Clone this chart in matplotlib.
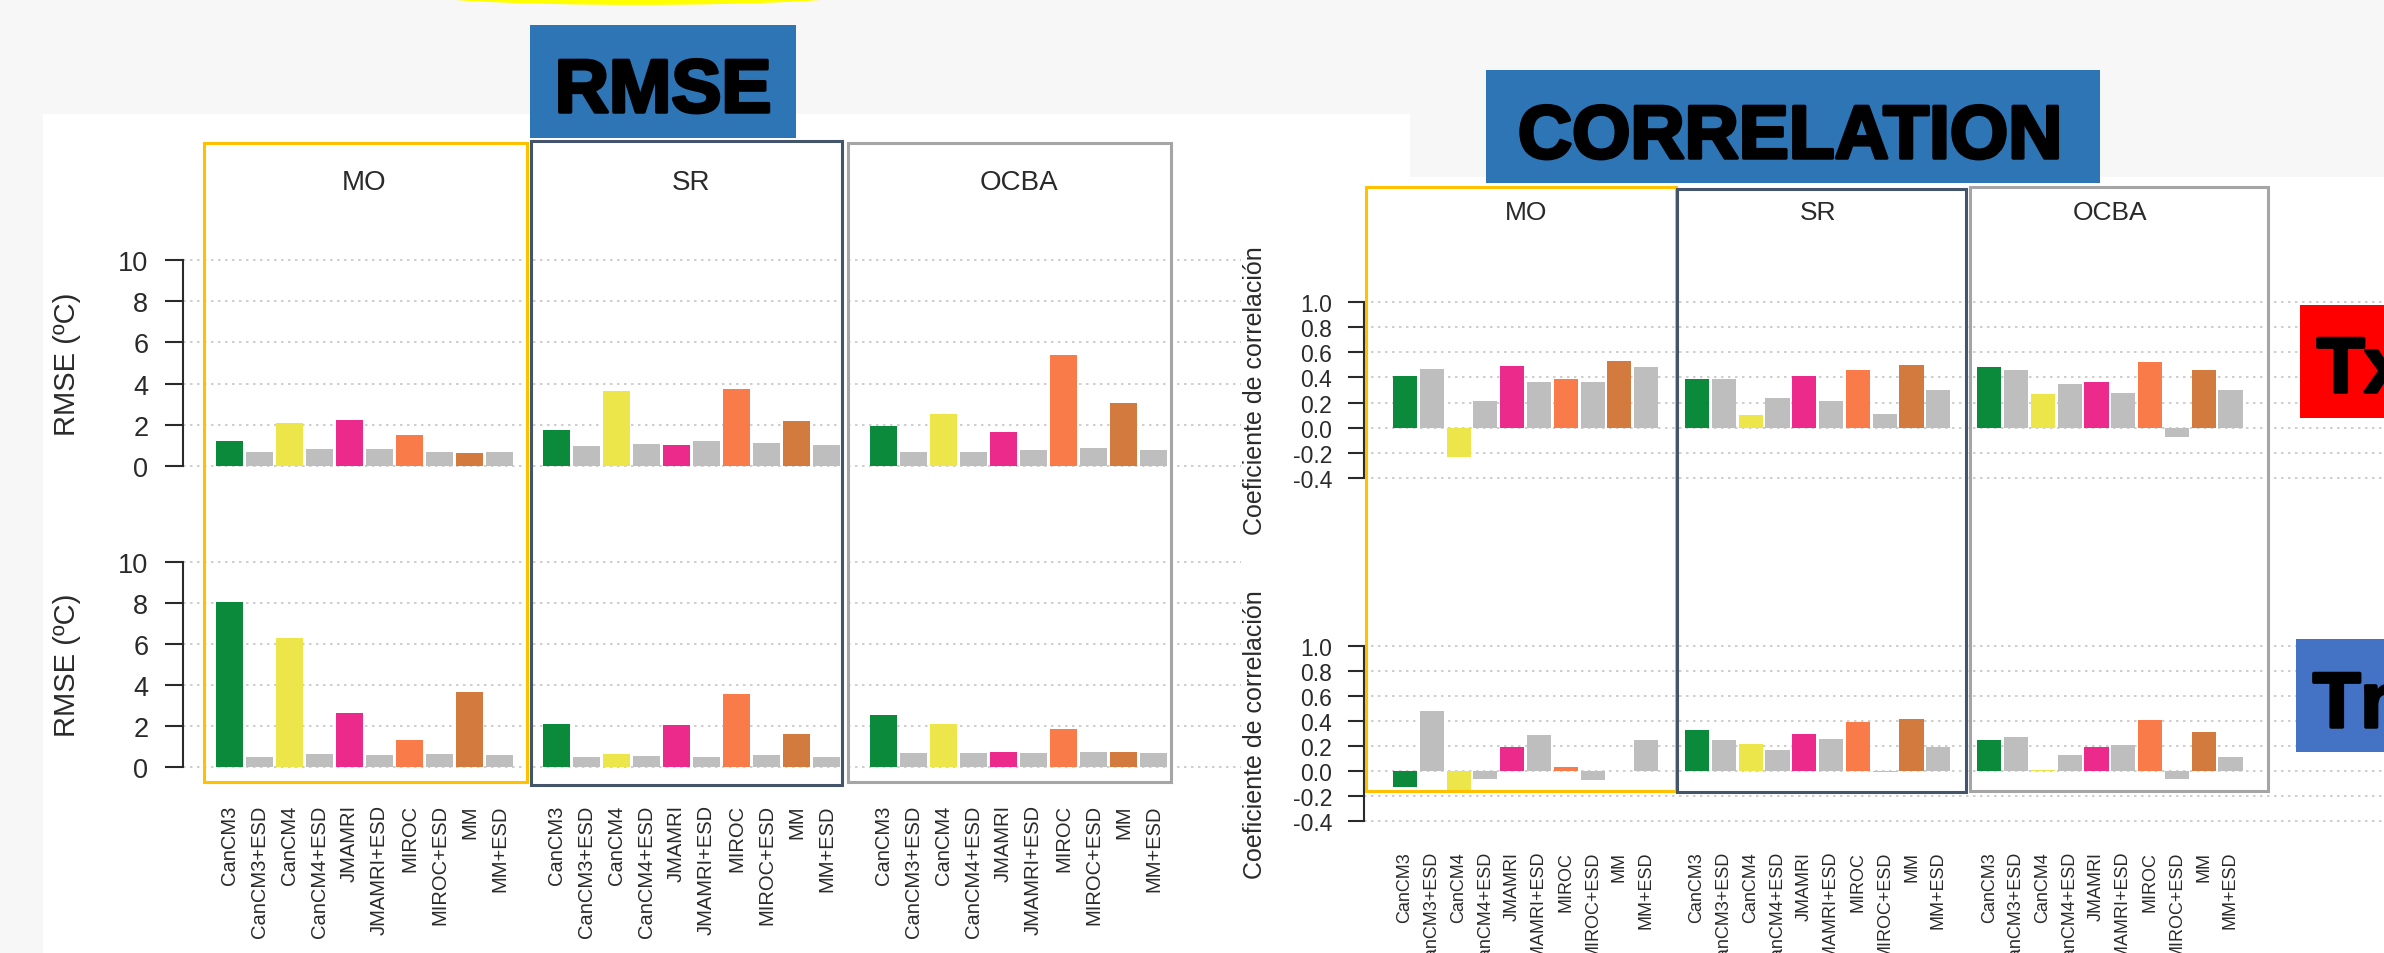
import matplotlib
matplotlib.use("Agg")
import matplotlib.pyplot as plt
import matplotlib.patheffects as pe
from matplotlib.patches import Rectangle, Ellipse
from matplotlib.transforms import blended_transform_factory

# ---------------------------------------------------------------- data
regions = ["MO", "SR", "OCBA"]
models = ["CanCM3", "CanCM3+ESD", "CanCM4", "CanCM4+ESD", "JMAMRI",
          "JMAMRI+ESD", "MIROC", "MIROC+ESD", "MM", "MM+ESD"]
model_colors = ["#0b8a3c", "#bebebe", "#ece64a", "#bebebe", "#ec2a8c",
                "#bebebe", "#fa7b4a", "#bebebe", "#d37a3e", "#bebebe"]

# RMSE (ºC), one list per region (MO, SR, OCBA)
rmse_tx = [
    [1.20, 0.70, 2.10, 0.80, 2.25, 0.80, 1.50, 0.70, 0.62, 0.68],
    [1.75, 0.97, 3.66, 1.05, 1.02, 1.20, 3.72, 1.10, 2.20, 1.02],
    [1.94, 0.70, 2.52, 0.70, 1.63, 0.78, 5.39, 0.86, 3.04, 0.78],
]
rmse_tn = [
    [8.05, 0.49, 6.27, 0.65, 2.64, 0.57, 1.30, 0.65, 3.65, 0.57],
    [2.09, 0.49, 0.65, 0.53, 2.03, 0.49, 3.57, 0.57, 1.62, 0.49],
    [2.54, 0.70, 2.10, 0.70, 0.73, 0.70, 1.86, 0.73, 0.73, 0.70],
]
# correlation coefficients, one list per region (MO, SR, OCBA)
corr_tx = [
    [0.41, 0.47, -0.23, 0.21, 0.49, 0.36, 0.39, 0.36, 0.53, 0.48],
    [0.39, 0.39, 0.10, 0.24, 0.41, 0.21, 0.46, 0.11, 0.50, 0.30],
    [0.48, 0.46, 0.27, 0.35, 0.36, 0.28, 0.52, -0.07, 0.46, 0.30],
]
corr_tn = [
    [-0.125, 0.48, -0.15, -0.06, 0.19, 0.29, 0.03, -0.075, 0.0, 0.25],
    [0.33, 0.25, 0.22, 0.17, 0.30, 0.26, 0.39, -0.01, 0.42, 0.19],
    [0.25, 0.27, 0.01, 0.13, 0.19, 0.21, 0.41, -0.06, 0.31, 0.11],
]

rmse_ticks = [0, 2, 4, 6, 8, 10]
corr_ticks = [-0.4, -0.2, 0.0, 0.2, 0.4, 0.6, 0.8, 1.0]

# ---------------------------------------------------------------- setup
W, H, DPI = 2384, 954, 100
plt.rcParams["font.family"] = ["Liberation Sans", "DejaVu Sans"]
fig = plt.figure(figsize=(W / DPI, H / DPI), dpi=DPI, facecolor="#f7f7f7")

GROUP_STEP = 10.9          # distance between the first bars of two regions
BAR_W = 0.9
INK = "#2a2a2a"


def fx(x):
    return x / W


def fy(y):
    return 1 - y / H


def px_axes(x0, y0, x1, y1):
    ax = fig.add_axes([fx(x0), fy(y1), (x1 - x0) / W, (y1 - y0) / H])
    ax.patch.set_alpha(0)
    return ax


def fig_rect(x0, y0, x1, y1, **kw):
    r = Rectangle((fx(x0), fy(y1)), (x1 - x0) / W, (y1 - y0) / H,
                  transform=fig.transFigure, **kw)
    fig.patches.append(r)
    return r


def bar_panel(ax, values, ticks, ylim, xlim, fmt, tick_fs, tick_len, tick_pad):
    for v in ticks:
        ax.axhline(v, color="#c6c6c6", lw=1.2, ls=(0, (1.5, 2.7)), zorder=0)
    for g, vals in enumerate(values):
        xs = [g * GROUP_STEP + i for i in range(len(models))]
        ax.bar(xs, vals, width=BAR_W, color=model_colors, zorder=2)
    ax.set_xlim(*xlim)
    ax.set_ylim(*ylim)
    for s in ("top", "right", "bottom"):
        ax.spines[s].set_visible(False)
    ax.spines["left"].set_bounds(ticks[0], ticks[-1])
    ax.spines["left"].set_linewidth(1.5)
    ax.spines["left"].set_color(INK)
    ax.set_yticks(ticks, [fmt(t) for t in ticks])
    ax.tick_params(axis="y", length=tick_len, width=1.5, pad=tick_pad,
                   labelsize=tick_fs, color=INK, labelcolor=INK)
    ax.tick_params(axis="x", length=0)
    ax.set_xticks([])


def add_xlabels(ax, fs, pad):
    pos, labs = [], []
    for g in range(len(regions)):
        for i, m in enumerate(models):
            pos.append(g * GROUP_STEP + i)
            labs.append(m)
    ax.set_xticks(pos, labs, rotation=90)
    ax.tick_params(axis="x", length=0, pad=pad, labelsize=fs, labelcolor=INK)


def add_facets(ax, y_px, fs):
    tr = blended_transform_factory(ax.transData, fig.transFigure)
    for g, name in enumerate(regions):
        ax.text(g * GROUP_STEP + 4.5, fy(y_px), name, transform=tr,
                ha="center", va="center", fontsize=fs, color=INK)


def set_ylab(ax, text, x_px, ax_x0, ax_w, fs):
    ax.set_ylabel(text, fontsize=fs, color=INK)
    ax.yaxis.set_label_coords((x_px - ax_x0) / ax_w, 0.5)
    ax.yaxis.label.set_verticalalignment("center")


# ---------------------------------------------------------------- backgrounds
fig_rect(43, 115, 1410, 954, facecolor="white", edgecolor="none", zorder=-5)
fig_rect(1230, 178, 2384, 954, facecolor="white", edgecolor="none", zorder=-5)

# ---------------------------------------------------------------- RMSE panels
rm_x0, rm_x1 = 183, 1241
rm_xlim = (-1.55, -1.55 + (rm_x1 - rm_x0) / 30.0)
ax_rt = px_axes(rm_x0, 252.8, rm_x1, 475.2)
bar_panel(ax_rt, rmse_tx, rmse_ticks, (-0.4, 10.4), rm_xlim,
          lambda t: f"{t:d}", 19.5, 13, 12)
set_ylab(ax_rt, "RMSE (ºC)", 67, rm_x0, rm_x1 - rm_x0, 21)
add_facets(ax_rt, 183, 20)

ax_rb = px_axes(rm_x0, 554.8, rm_x1, 776.2)
bar_panel(ax_rb, rmse_tn, rmse_ticks, (-0.4, 10.4), rm_xlim,
          lambda t: f"{t:d}", 19.5, 13, 12)
set_ylab(ax_rb, "RMSE (ºC)", 67, rm_x0, rm_x1 - rm_x0, 21)
add_xlabels(ax_rb, 14.5, 21)

# ---------------------------------------------------------------- correlation panels
co_x0, co_x1 = 1364, 2384
co_xlim = (-1.53, -1.53 + (co_x1 - co_x0) / 26.8)
ax_ct = px_axes(co_x0, 296.7, co_x1, 485.3)
bar_panel(ax_ct, corr_tx, corr_ticks, (-0.45, 1.05), co_xlim,
          lambda t: f"{t:.1f}", 16.5, 11.5, 11.5)
set_ylab(ax_ct, "Coeficiente de correlación", 1255, co_x0, co_x1 - co_x0, 18)
add_facets(ax_ct, 213, 19)

ax_cb = px_axes(co_x0, 640.8, co_x1, 828.3)
bar_panel(ax_cb, corr_tn, corr_ticks, (-0.45, 1.05), co_xlim,
          lambda t: f"{t:.1f}", 16.5, 11.5, 11.5)
set_ylab(ax_cb, "Coeficiente de correlación", 1255, co_x0, co_x1 - co_x0, 18)
add_xlabels(ax_cb, 13, 17)

# ---------------------------------------------------------------- region frames
frame_colors = ["#ffc000", "#44546a", "#a5a5a5"]
rmse_frames = [(204, 144, 527, 783), (531, 142, 842, 786), (848, 144, 1171, 783)]
corr_frames = [(1366, 188, 1676, 792), (1677, 190, 1966, 793), (1970, 188, 2268, 792)]
for col, box in zip(frame_colors, rmse_frames):
    fig_rect(*box, fill=False, edgecolor=col, lw=2.2, zorder=10)
for col, box in zip(frame_colors, corr_frames):
    fig_rect(*box, fill=False, edgecolor=col, lw=2.2, zorder=10)

# ---------------------------------------------------------------- headings
fig.patches.append(Ellipse((fx(638), fy(-5.1)), 440 / W, 22 / H,
                           transform=fig.transFigure, facecolor="#ffff00",
                           edgecolor="none", zorder=11))

bold_fx = [pe.withStroke(linewidth=2.5, foreground="black")]
fig_rect(530, 26, 796, 139, facecolor="#2e75b6", edgecolor="none", zorder=11)
fig.text(fx(663), fy(113), "RMSE", ha="center", va="baseline", fontsize=54,
         fontweight="bold", color="black", path_effects=bold_fx, zorder=12)

fig_rect(1486, 71, 2100, 184, facecolor="#2e75b6", edgecolor="none", zorder=11)
fig.text(fx(1790), fy(159), "CORRELATION", ha="center", va="baseline",
         fontsize=54, fontweight="bold", color="black", path_effects=bold_fx,
         zorder=12)

fig_rect(2300, 306, 2384, 419, facecolor="#ff0000", edgecolor="none", zorder=11)
fig.text(fx(2317), fy(393), "Tx", ha="left", va="baseline", fontsize=56,
         fontweight="bold", color="black", path_effects=bold_fx, zorder=12)

fig_rect(2296, 640, 2384, 753, facecolor="#4472c4", edgecolor="none", zorder=11)
fig.text(fx(2313), fy(728), "Tn", ha="left", va="baseline", fontsize=56,
         fontweight="bold", color="black", path_effects=bold_fx, zorder=12)

fig.savefig("out.png", dpi=DPI, facecolor=fig.get_facecolor())
